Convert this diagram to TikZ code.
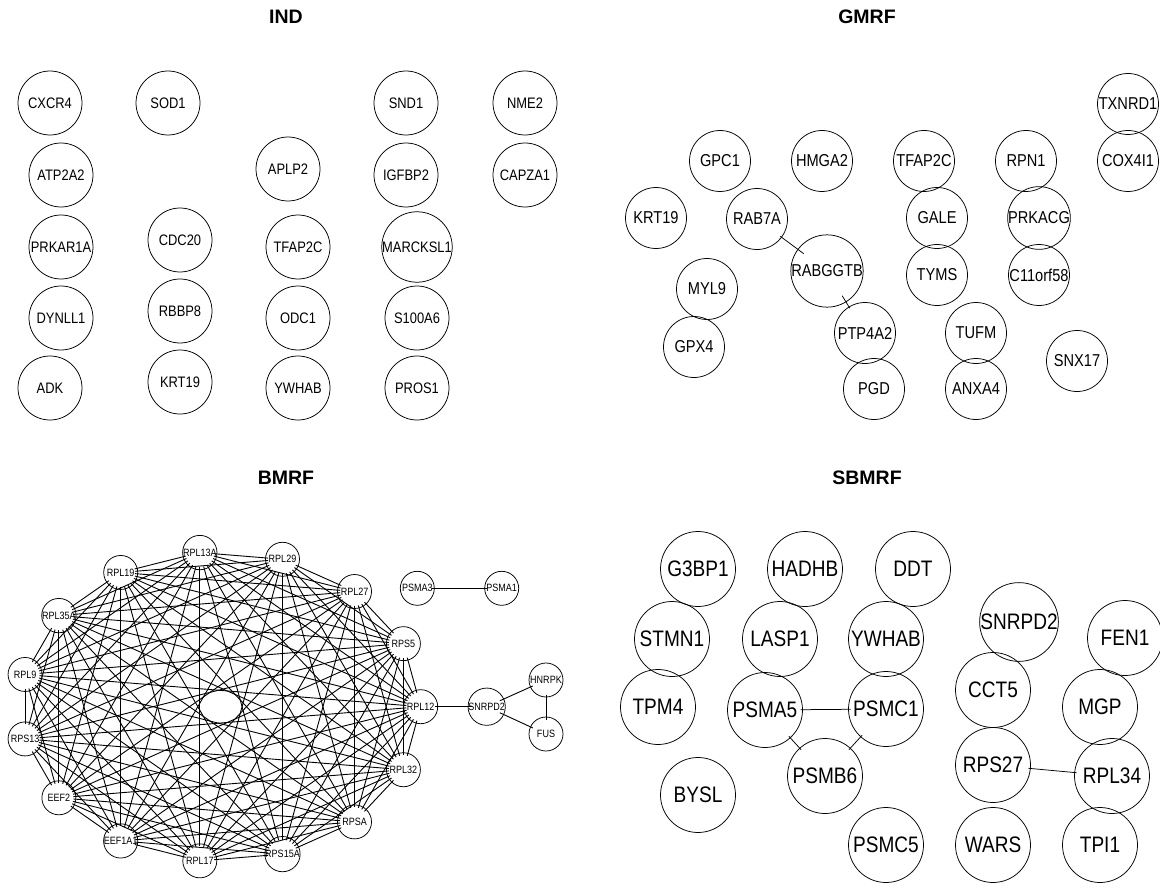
\documentclass[tikz,border=0pt]{standalone}
\usepackage{fontspec}
\setmainfont{Liberation Sans}
\newfontfamily\labfont[FakeStretch=0.85]{Liberation Sans}
\begin{document}
\begin{tikzpicture}[x=1pt,y=-1pt,
  gn/.style={circle,draw,line width=0.75pt,inner sep=0pt},
  indn/.style={gn,minimum size=64pt,font={\labfont\fontsize{15.2}{16}\selectfont}},
  gmn/.style={gn,minimum size=61pt,font={\labfont\fontsize{17.2}{18}\selectfont}},
  bmn/.style={gn,minimum size=34pt,font={\labfont\fontsize{10.6}{11}\selectfont}},
  sbn/.style={gn,minimum size=75pt,font={\labfont\fontsize{22.4}{23}\selectfont}},
  ttl/.style={font={\bfseries\fontsize{19.5}{20}\selectfont},inner sep=0pt},
  gme/.style={line width=0.75pt,shorten <=29pt,shorten >=29pt},
  bme/.style={line width=0.9pt,shorten <=14.5pt,shorten >=14.5pt},
  sbe/.style={line width=0.75pt,shorten <=35.5pt,shorten >=35.5pt}]
\useasboundingbox (0,0) rectangle (1160,888);
% titles
\node[ttl] (tind) at (286,17) {IND};
\node[ttl] (tgm) at (867,17) {GMRF};
\node[ttl] (tbm) at (286,478) {BMRF};
\node[ttl] (tsb) at (867,478) {SBMRF};
% IND
\node[indn] (iCXCR4) at (50,103) {CXCR4};
\node[indn] (iSOD1) at (168,103) {SOD1};
\node[indn] (iSND1) at (406,103) {SND1};
\node[indn] (iNME2) at (525,103) {NME2};
\node[indn] (iATP2A2) at (61,175) {ATP2A2};
\node[indn] (iAPLP2) at (288,169) {APLP2};
\node[indn] (iIGFBP2) at (406,175) {IGFBP2};
\node[indn] (iCAPZA1) at (525,175) {CAPZA1};
\node[indn] (iPRKAR1A) at (61,247) {PRKAR1A};
\node[indn] (iCDC20) at (180,240) {CDC20};
\node[indn] (iTFAP2C) at (298,247) {TFAP2C};
\node[indn] (iMARCKSL1) at (417,247) {MARCKSL1};
\node[indn] (iDYNLL1) at (61,318) {DYNLL1};
\node[indn] (iRBBP8) at (180,311) {RBBP8};
\node[indn] (iODC1) at (298,318) {ODC1};
\node[indn] (iS100A6) at (417,318) {S100A6};
\node[indn] (iADK) at (50,388) {ADK};
\node[indn] (iKRT19) at (180,382) {KRT19};
\node[indn] (iYWHAB) at (298,388) {YWHAB};
\node[indn] (iPROS1) at (417,388) {PROS1};
% GMRF
\node[gmn] (gTXNRD1) at (1128,104) {TXNRD1};
\node[gmn] (gGPC1) at (720,161) {GPC1};
\node[gmn] (gHMGA2) at (822,161) {HMGA2};
\node[gmn] (gTFAP2C) at (924,161) {TFAP2C};
\node[gmn] (gRPN1) at (1026,161) {RPN1};
\node[gmn] (gCOX4I1) at (1128,161) {COX4I1};
\node[gmn] (gKRT19) at (656,218) {KRT19};
\node[gmn] (gRAB7A) at (757,219) {RAB7A};
\node[gmn] (gGALE) at (937,218) {GALE};
\node[gmn] (gPRKACG) at (1039,218) {PRKACG};
\node[gmn] (gRABGGTB) at (827,271) {RABGGTB};
\node[gmn] (gMYL9) at (707,289) {MYL9};
\node[gmn] (gTYMS) at (937,275) {TYMS};
\node[gmn] (gC11orf58) at (1039,275) {C11orf58};
\node[gmn] (gGPX4) at (694,347) {GPX4};
\node[gmn] (gPTP4A2) at (865,333) {PTP4A2};
\node[gmn] (gTUFM) at (976,333) {TUFM};
\node[gmn] (gSNX17) at (1077,361) {SNX17};
\node[gmn] (gPGD) at (874,389) {PGD};
\node[gmn] (gANXA4) at (976,389) {ANXA4};
\draw[gme] (gRAB7A.center) -- (gRABGGTB.center);
\draw[gme] (gRABGGTB.center) -- (gPTP4A2.center);
% BMRF
\foreach \lab [count=\k from 0] in {RPL12,RPS5,RPL27,RPL29,RPL13A,RPL19,RPL35A,RPL9,RPS13,EEF2,EEF1A1,RPL17,RPS15A,RPSA,RPL32}{
  \node[bmn] (b\k) at ({220.7+200*cos(24*\k)},{706.7-155*sin(24*\k)}) {\lab};
}
\foreach \i in {0,...,13}{
  \pgfmathtruncatemacro{\ni}{\i+1}
  \foreach \j in {\ni,...,14}{
    \draw[bme] (b\i.center) -- (b\j.center);
  }
}
\node[bmn] (bPSMA3) at (417.3,588.3) {PSMA3};
\node[bmn] (bPSMA1) at (501.7,588.3) {PSMA1};
\node[bmn] (bSNRPD2) at (486.7,706.7) {SNRPD2};
\node[bmn] (bHNRPK) at (546,680) {HNRPK};
\node[bmn] (bFUS) at (546,734) {FUS};
\draw[bme] (bPSMA3.center) -- (bPSMA1.center);
\draw[bme] (b0.center) -- (bSNRPD2.center);
\draw[bme] (bSNRPD2.center) -- (bHNRPK.center);
\draw[bme] (bSNRPD2.center) -- (bFUS.center);
\draw[bme] (bHNRPK.center) -- (bFUS.center);
% SBMRF
\node[sbn] (sG3BP1) at (698,569) {G3BP1};
\node[sbn] (sHADHB) at (805,569) {HADHB};
\node[sbn] (sDDT) at (913,569) {DDT};
\node[sbn] (sSNRPD2) at (1019,622) {SNRPD2};
\node[sbn] (sSTMN1) at (672,639) {STMN1};
\node[sbn] (sLASP1) at (780,639) {LASP1};
\node[sbn] (sYWHAB) at (886,639) {YWHAB};
\node[sbn] (sFEN1) at (1125,638) {FEN1};
\node[sbn] (sCCT5) at (993,690) {CCT5};
\node[sbn] (sTPM4) at (658,707) {TPM4};
\node[sbn] (sPSMA5) at (765,710) {PSMA5};
\node[sbn] (sPSMC1) at (886,709) {PSMC1};
\node[sbn] (sMGP) at (1100,707) {MGP};
\node[sbn] (sRPS27) at (993,765) {RPS27};
\node[sbn] (sPSMB6) at (825,776) {PSMB6};
\node[sbn] (sRPL34) at (1112,776) {RPL34};
\node[sbn] (sBYSL) at (698,795) {BYSL};
\node[sbn] (sPSMC5) at (886,845) {PSMC5};
\node[sbn] (sWARS) at (993,845) {WARS};
\node[sbn] (sTPI1) at (1100,845) {TPI1};
\draw[sbe] (sPSMA5.center) -- (sPSMC1.center);
\draw[sbe] (sPSMA5.center) -- (sPSMB6.center);
\draw[sbe] (sPSMC1.center) -- (sPSMB6.center);
\draw[sbe] (sRPS27.center) -- (sRPL34.center);
\end{tikzpicture}
\end{document}
